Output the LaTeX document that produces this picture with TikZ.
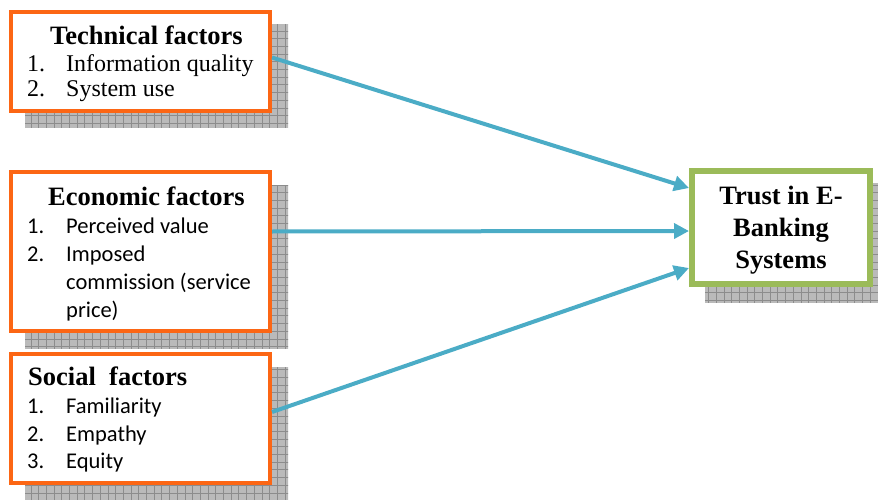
\documentclass[tikz,border=0pt]{standalone}
\usepackage{fontspec}
\setmainfont{Liberation Serif}
\newfontfamily\carlito{Carlito}
\usetikzlibrary{arrows.meta, calc, backgrounds}

\definecolor{factororange}{RGB}{252,102,20}
\definecolor{trustgreen}{RGB}{155,187,89}
\definecolor{linkblue}{RGB}{75,172,198}

\tikzset{
	factor/.style = {draw = factororange, line width = 4pt, fill = white, minimum width = 259pt, inner sep = 0},
	trustbox/.style = {draw = trustgreen, line width = 6pt, fill = white, minimum width = 178pt, minimum height = 113pt, align = center, inner sep = 0, text depth = 0pt, font = \fontsize{26.5}{32}\selectfont\bfseries},
	heading/.style = {anchor = base west, inner sep = 0, font = \fontsize{26.5}{32}\selectfont\bfseries},
	seritem/.style = {anchor = base west, inner sep = 0, font = \fontsize{24}{28}\selectfont},
	sansitem/.style = {anchor = base west, inner sep = 0, font = \fontsize{22.5}{28}\selectfont\carlito},
	link/.style = {draw = linkblue, line width = 4pt, -{Triangle[length = 15pt, width = 15pt]}}
}

\newcommand{\num}[1]{\makebox[39pt][l]{#1}}

\begin{document}
\begin{tikzpicture}[x = 1pt, y = -1pt]

	% Definition

	\def\dx{16}
	\def\dy{15}

	\useasboundingbox (0, 0) rectangle (878, 500);

	% Boxes

	\node [factor, minimum height = 99pt] (tech) at (140.5, 61.5) {};
	\node [factor, minimum height = 159pt] (econ) at (140.5, 251.5) {};
	\node [factor, minimum height = 129pt] (social) at (140.5, 418.5) {};
	\node [trustbox] (trust) at (781, 227.5) {Trust in E-\\Banking\\Systems};

	% Grid shadows behind the boxes

	\begin{scope}[on background layer]
		\foreach \b in {tech, econ, social, trust} {
			\begin{scope}
				\clip ($(\b.north west) + (\dx, \dy)$) rectangle ($(\b.south east) + (\dx, \dy)$);
				\fill [black!27] (0, 0) rectangle (900, 520);
				\draw [black!45, line width = 0.5pt, step = 7.7pt] (0, 0) grid (900, 520);
			\end{scope}
		}
	\end{scope}

	% Texts

	\node [heading] (techhead) at (50, 45) {Technical factors};
	\node [seritem] (tech1) at (27, 72) {\num{1.}Information quality};
	\node [seritem] (tech2) at (27, 97) {\num{2.}System use};

	\node [heading] (econhead) at (48, 205) {Economic factors};
	\node [sansitem] (econ1) at (27, 233) {\num{1.}Perceived value};
	\node [sansitem] (econ2) at (27, 261) {\num{2.}Imposed};
	\node [sansitem] (econ3) at (66, 289) {commission (service};
	\node [sansitem] (econ4) at (66, 317) {price)};

	\node [heading] (socialhead) at (28, 385) {Social\ \ factors};
	\node [sansitem] (social1) at (27, 413) {\num{1.}Familiarity};
	\node [sansitem] (social2) at (27, 441) {\num{2.}Empathy};
	\node [sansitem] (social3) at (27, 468) {\num{3.}Equity};

	% Links

	\draw [link] ($(tech.east) + (0, -4)$) -- ($(trust.west) + (0, -39.5)$);
	\draw [link] ($(econ.east) + (0, -20)$) -- ($(trust.west) + (0, 3.5)$);
	\draw [link] ($(social.east) + (0, -6.5)$) -- ($(trust.west) + (0, 40.5)$);

\end{tikzpicture}
\end{document}
